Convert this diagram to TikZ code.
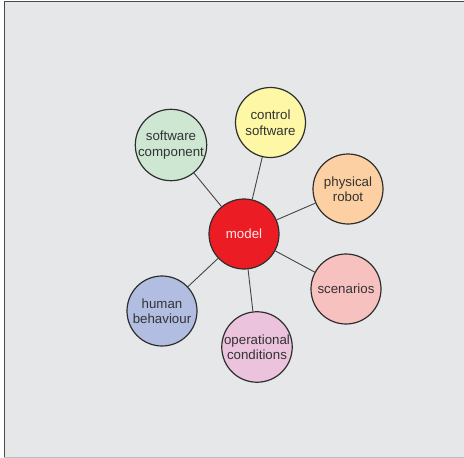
\documentclass[tikz,border=0pt]{standalone}
\usepackage{fontspec}
\setmainfont{Liberation Sans}
\definecolor{bg}{HTML}{E6E7E8}
\definecolor{frameDark}{HTML}{4A4A4A}
\definecolor{frameLight}{HTML}{BDBDBD}
\definecolor{edge}{HTML}{454545}
\definecolor{ring}{HTML}{2E2E2E}
\definecolor{cModel}{HTML}{EC1C24}
\definecolor{cSoft}{HTML}{CDE7D3}
\definecolor{cCtrl}{HTML}{FEF7A6}
\definecolor{cRobot}{HTML}{FCD0A2}
\definecolor{cScen}{HTML}{F7C1C0}
\definecolor{cOper}{HTML}{EBC3DD}
\definecolor{cHuman}{HTML}{B1BEE2}
\begin{document}
\begin{tikzpicture}[x=1pt,y=-1pt,
  topic/.style={circle,draw=ring,line width=1.2pt,minimum size=70pt,inner sep=0pt,
    align=center,font=\fontsize{13.3}{15.5}\selectfont,text=black!80},
  link/.style={draw=edge,line width=0.9pt}]
  % page and panel
  \useasboundingbox (0,0) rectangle (464,458);
  \fill[white] (0,0) rectangle (464,458);
  \fill[bg] (4,2) rectangle (464,457);
  \draw[frameLight,line width=0.8pt] (4,457) -- (464,457);
  \draw[frameDark,line width=1pt] (4.5,457) -- (4.5,1.5) -- (464,1.5);
  % hub and topics
  \node[topic,fill=cModel,text=white!92!red] (model) at (244,234) {model};
  \node[topic,fill=cSoft] (soft) at (171,145) {software\\component};
  \node[topic,fill=cCtrl] (ctrl) at (270.5,122.5) {control\\software};
  \node[topic,fill=cRobot] (robot) at (348,189) {physical\\robot};
  \node[topic,fill=cScen] (scen) at (346,289) {scenarios};
  \node[topic,fill=cOper] (oper) at (257,347) {operational\\conditions};
  \node[topic,fill=cHuman] (human) at (162,311) {human\\behaviour};
  % spokes
  \foreach \t in {soft,ctrl,robot,scen,oper,human}
    \draw[link] (model) -- (\t);
\end{tikzpicture}
\end{document}
